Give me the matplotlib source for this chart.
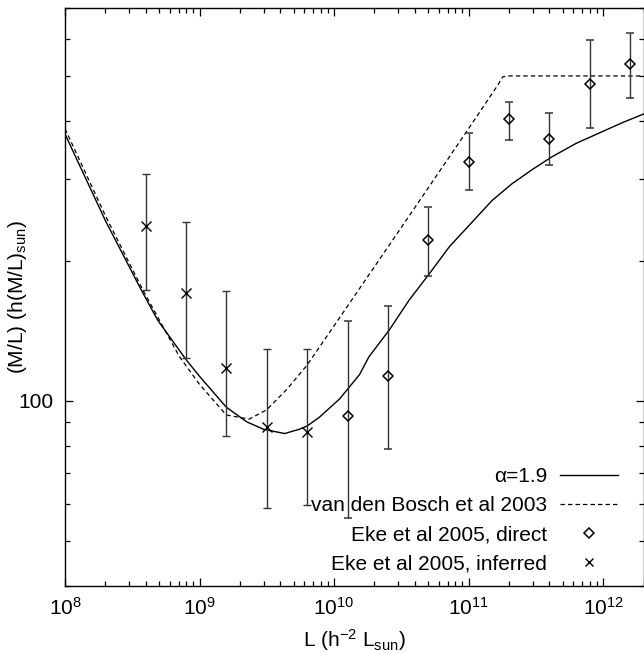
import numpy as np
import matplotlib
matplotlib.use("Agg")
import matplotlib.pyplot as plt
from matplotlib.ticker import LogLocator, NullFormatter, FixedLocator, FixedFormatter

plt.rcParams['font.family'] = ['Liberation Sans', 'DejaVu Sans']
plt.rcParams['mathtext.fontset'] = 'custom'
plt.rcParams['mathtext.rm'] = 'Liberation Sans'
plt.rcParams['mathtext.it'] = 'Liberation Sans'
plt.rcParams['mathtext.default'] = 'regular'

# === model curves ===
L_model = [1e8, 2e8, 3.7e8, 4.9e8, 8e8, 1e9, 1.58e9, 2.24e9, 3e9, 4.3e9, 5.5e9,
           6.3e9, 7.8e9, 1.1e10, 1.55e10, 1.82e10, 2.57e10, 3.63e10, 5.13e10,
           7.24e10, 1.1e11, 1.5e11, 2.1e11, 3e11, 4.17e11, 6.3e11, 9.77e11, 1.4e12, 2e12]
ML_model = [375, 244, 173, 149, 122.4, 113, 97, 90.2, 86.9, 85.1, 86.9,
            88.3, 92.3, 101, 114, 124.5, 142, 165, 188,
            215, 245, 270, 293, 315, 335, 358, 379, 397, 414]

L_vdb = [1e8, 2e8, 3.8e8, 7.1e8, 1e9, 1.58e9, 2.34e9, 3.16e9, 4.47e9, 6.3e9,
         1e10, 3.16e10, 1e11, 1.66e11, 1.8e11, 2e11, 2e12]
ML_vdb = [385, 250, 173, 124.5, 108.6, 93.3, 91.4, 95.7, 106, 119.4,
          145, 236, 385, 479, 498, 500, 500]

# === Eke et al 2005 ===
L_dir = [1.26e10, 2.5e10, 5e10, 1e11, 2e11, 4e11, 8e11, 1.6e12]
ML_dir = [93, 113, 222, 327, 404, 366, 480, 531]
ML_dir_hi = [148.6, 160, 261, 377, 440, 416, 597, 620]
ML_dir_lo = [56, 78.9, 186, 284, 364, 321, 386, 449]

L_inf = [4e8, 7.9e8, 1.58e9, 3.16e9, 6.3e9]
ML_inf = [238, 171, 118, 88, 85.8]
ML_inf_hi = [308, 242, 172, 129.5, 129.4]
ML_inf_lo = [173, 124, 84.2, 58.9, 59.7]

fig = plt.figure(figsize=(6.44, 6.54), dpi=100)
ax = fig.add_axes([65 / 644, 1 - 586 / 654, 578.5 / 644, 578 / 654])

ax.plot(L_model, ML_model, color='black', lw=1.0, label='α=1.9')
ax.plot(L_vdb, ML_vdb, color='black', lw=0.9, ls=(0, (3.5, 2.5)),
        label='van den Bosch et al 2003')

ml = np.array(ML_dir)
ax.errorbar(L_dir, ML_dir, yerr=[ml - np.array(ML_dir_lo), np.array(ML_dir_hi) - ml],
            fmt='D', mfc='none', mec='black', mew=1.1, ms=5.2, ecolor='0.2',
            elinewidth=1.0, capsize=2.6, capthick=1.0, label='Eke et al 2005, direct')
ml = np.array(ML_inf)
ax.errorbar(L_inf, ML_inf, yerr=[ml - np.array(ML_inf_lo), np.array(ML_inf_hi) - ml],
            fmt='x', mec='black', mew=1.0, ms=6.5, ecolor='0.2',
            elinewidth=1.0, capsize=2.6, capthick=1.0, label='Eke et al 2005, inferred')

ax.set_xscale('log')
ax.set_yscale('log')
ax.set_xlim(1e8, 2e12)
ax.set_ylim(40, 700)

ax.xaxis.set_major_locator(LogLocator(base=10, numticks=10))
ax.xaxis.set_minor_locator(LogLocator(base=10, subs=np.arange(2, 10), numticks=20))
ax.xaxis.set_minor_formatter(NullFormatter())
ax.yaxis.set_major_locator(FixedLocator([100]))
ax.yaxis.set_major_formatter(FixedFormatter(['100']))
ax.yaxis.set_minor_formatter(NullFormatter())

ax.tick_params(which='both', direction='in', top=True, right=True, labelsize=15)
ax.tick_params(which='major', length=6, width=0.9, pad=8)
ax.tick_params(which='minor', length=3.5, width=0.9)
for s in ax.spines.values():
    s.set_linewidth(1.0)

ax.set_xlabel('L (h$^{-2}$ L$_{sun}$)', fontsize=15, labelpad=6)
ax.set_ylabel('(M/L) (h(M/L)$_{sun}$)', fontsize=15)
ax.yaxis.set_label_coords(-0.062, 0.499)

h, l = ax.get_legend_handles_labels()
h = [h[0], h[1], h[2][0], h[3][0]]
ax.legend(h, l, loc='lower right', bbox_to_anchor=(0.963, 0.014), frameon=False,
          markerfirst=False, fontsize=15, handlelength=2.8, handletextpad=0.6,
          labelspacing=0.49, borderpad=0.2, borderaxespad=0.0, markerscale=0.9)

fig.savefig('out.png', dpi=100)
